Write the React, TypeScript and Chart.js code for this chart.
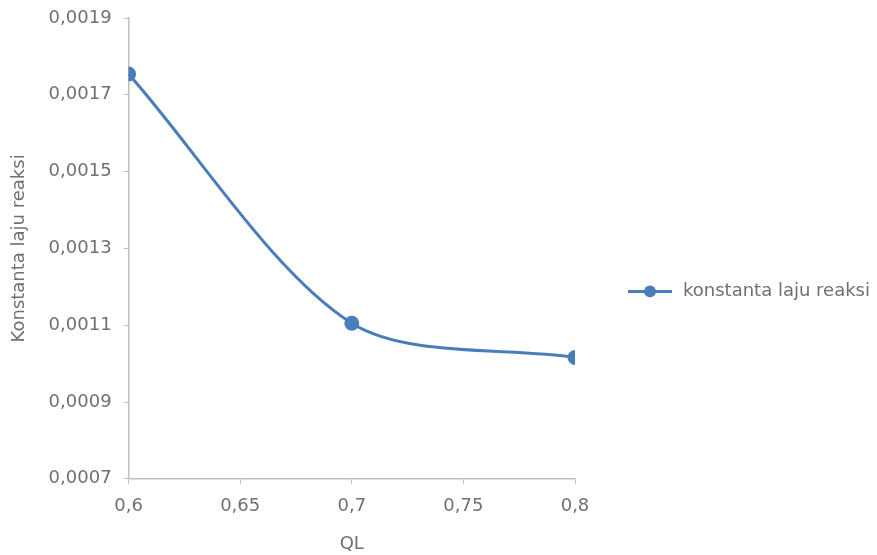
import React, { useEffect, useRef } from "react";
import { Chart, registerables } from "chart.js";

Chart.register(...registerables);

const xValues = [0.6, 0.7, 0.8];
const yValues = [0.001754, 0.001105, 0.001016];
const seriesLabel = "konstanta laju reaksi";
const xTitle = "QL";
const yTitle = "Konstanta laju reaksi";

const FONT = "'DejaVu Sans', sans-serif";
const FS = 18;
const TEXT = "#707070";
const AXIS = "#c0c0c0";
const LINE = "#4a7ebb";

const legendPlugin = {
  id: "customLegend",
  afterDraw(chart: any) {
    const ctx = chart.ctx;
    const area = chart.chartArea;
    const x0 = area.right + 53;
    const y = chart.height * 0.525;
    ctx.save();
    ctx.strokeStyle = LINE;
    ctx.lineWidth = 3;
    ctx.beginPath();
    ctx.moveTo(x0, y);
    ctx.lineTo(x0 + 44, y);
    ctx.stroke();
    ctx.fillStyle = LINE;
    ctx.beginPath();
    ctx.arc(x0 + 22, y, 6, 0, Math.PI * 2);
    ctx.fill();
    ctx.fillStyle = TEXT;
    ctx.font = FS + "px " + FONT;
    ctx.textBaseline = "middle";
    ctx.textAlign = "left";
    ctx.fillText(seriesLabel, x0 + 55, y);
    ctx.restore();
  },
};

export default function App() {
  const ref = useRef<HTMLCanvasElement>(null);
  useEffect(() => {
    document.body.style.margin = "0";
    const chart = new Chart(ref.current!, {
      type: "line",
      data: {
        datasets: [
          {
            label: seriesLabel,
            data: xValues.map((x, i) => ({ x, y: yValues[i] })),
            borderColor: LINE,
            backgroundColor: LINE,
            borderWidth: 3,
            pointRadius: 6,
            pointBackgroundColor: LINE,
            pointBorderColor: LINE,
            tension: 0.3,
            fill: false,
          },
        ],
      },
      options: {
        animation: false,
        responsive: false,
        maintainAspectRatio: false,
        layout: { padding: { top: 18, right: 302, bottom: 0, left: 9 } },
        plugins: {
          legend: { display: false },
          tooltip: { enabled: false },
        },
        scales: {
          x: {
            type: "linear",
            min: 0.6,
            max: 0.8,
            border: { color: AXIS, width: 1.5 },
            grid: { drawOnChartArea: false, drawTicks: true, tickLength: 5, color: AXIS },
            ticks: {
              stepSize: 0.05,
              padding: 12,
              color: TEXT,
              font: { family: FONT, size: FS },
              callback: (v: any) => String(Number(Number(v).toFixed(2))).replace(".", ","),
            },
            title: {
              display: true,
              text: xTitle,
              color: TEXT,
              font: { family: FONT, size: FS },
              padding: { top: 4, bottom: 0 },
            },
          },
          y: {
            type: "linear",
            min: 0.0007,
            max: 0.0019,
            afterFit: (s: any) => {
              s.paddingTop = 0;
              s.paddingBottom = 0;
            },
            border: { color: AXIS, width: 1.5 },
            grid: { drawOnChartArea: false, drawTicks: true, tickLength: 5, color: AXIS },
            ticks: {
              stepSize: 0.0002,
              padding: 12,
              color: TEXT,
              font: { family: FONT, size: FS },
              callback: (v: any) => Number(v).toFixed(4).replace(".", ","),
            },
            title: {
              display: true,
              text: yTitle,
              color: TEXT,
              font: { family: FONT, size: FS },
              padding: { top: 0, bottom: 6 },
            },
          },
        },
      },
      plugins: [legendPlugin],
    });
    return () => chart.destroy();
  }, []);
  return (
    <div style={{ width: 877, height: 555, background: "#fff" }}>
      <canvas ref={ref} width={877} height={555} style={{ display: "block" }} />
    </div>
  );
}
